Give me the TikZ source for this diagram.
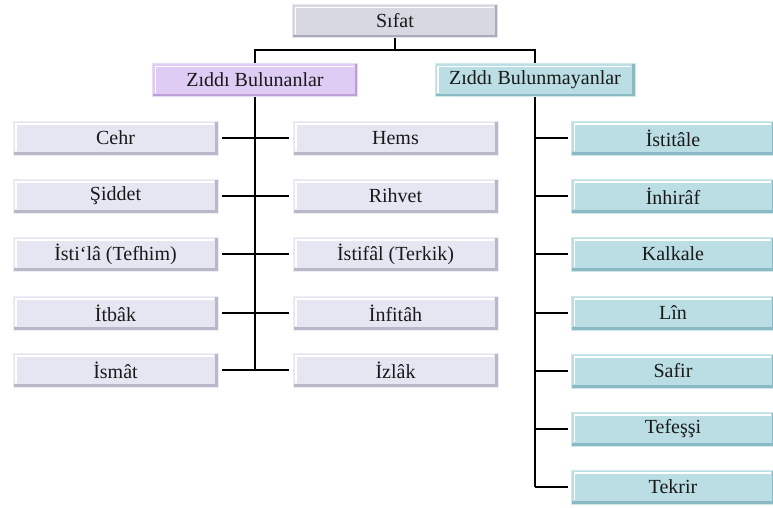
\documentclass[tikz,border=0pt]{standalone}
\usepackage{fontspec}
\setmainfont{Liberation Serif}
\newfontfamily\boxfont{Liberation Serif}
\usetikzlibrary{calc}
\definecolor{gfill}{RGB}{216,216,226}
\definecolor{gdark}{RGB}{170,170,186}
\definecolor{pfill}{RGB}{222,204,244}
\definecolor{pdark}{RGB}{186,160,214}
\definecolor{lfill}{RGB}{230,230,242}
\definecolor{ldark}{RGB}{184,184,200}
\definecolor{bfill}{RGB}{186,222,228}
\definecolor{bdark}{RGB}{140,186,196}
\definecolor{txt}{RGB}{25,25,25}
\tikzset{
  bevel/.style n args={2}{
    fill=#1, draw=#1!70!white, line width=0.6pt,
    minimum height=33pt, inner sep=0pt, text=txt,
    font=\boxfont\fontsize{20}{23}\selectfont,
    path picture={
      \fill[#2] (path picture bounding box.south west) rectangle ([yshift=3pt]path picture bounding box.south east);
      \fill[#2] ([xshift=-3pt]path picture bounding box.south east) rectangle (path picture bounding box.north east);
      \draw[white, line width=1.1pt] ([xshift=3pt,yshift=4pt]path picture bounding box.south west) -- ([xshift=3pt,yshift=-3pt]path picture bounding box.north west) -- ([xshift=-4pt,yshift=-3pt]path picture bounding box.north east);
    }
  },
  topbox/.style={bevel={gfill}{gdark}, minimum width=205pt},
  headL/.style={bevel={pfill}{pdark}, minimum width=205pt},
  headR/.style={bevel={bfill}{bdark}, minimum width=200pt},
  itemL/.style={bevel={lfill}{ldark}, minimum width=205pt, minimum height=34pt},
  itemR/.style={bevel={bfill}{bdark}, minimum width=203pt, minimum height=34pt},
  conn/.style={line width=1.8pt, black},
  spine/.style={line width=2.4pt, black}
}
\begin{document}
\begin{tikzpicture}[x=1pt,y=-1pt]
\useasboundingbox (0,0) rectangle (773,507);
\node[topbox] (sifat) at (395,21) {Sıfat};
\node[headL] (zb) at (255,80) {Zıddı Bulunanlar};
\node[headR] (zbm) at (535,80) {Zıddı Bulunmayanlar};
\coordinate (hb) at (395,50);
% left group
\node[itemL] (l1) at (115.5,138) {Cehr};
\node[itemL] (l2) at (115.5,196) {Şiddet};
\node[itemL] (l3) at (115.5,254) {İsti‘lâ (Tefhim)};
\node[itemL] (l4) at (115.5,313) {İtbâk};
\node[itemL] (l5) at (115.5,370) {İsmât};
\node[itemL] (m1) at (395.5,138) {Hems};
\node[itemL] (m2) at (395.5,196) {Rihvet};
\node[itemL] (m3) at (395.5,254) {İstifâl (Terkik)};
\node[itemL] (m4) at (395.5,313) {İnfitâh};
\node[itemL] (m5) at (395.5,370) {İzlâk};
% right group
\node[itemR] (r1) at (673,138) {İstitâle};
\node[itemR] (r2) at (673,196) {İnhirâf};
\node[itemR] (r3) at (673,254) {Kalkale};
\node[itemR] (r4) at (673,313) {Lîn};
\node[itemR] (r5) at (673,371) {Safir};
\node[itemR] (r6) at (673,429) {Tefeşşi};
\node[itemR] (r7) at (673,487) {Tekrir};
% connectors
\draw[conn] (sifat.south) -- (hb);
\draw[conn] (zb.north) |- (hb) -| (zbm.north);
\draw[spine] (zb.south) -- (zb.south |- l5.east);
\foreach \a/\b in {l1/m1,l2/m2,l3/m3,l4/m4,l5/m5}
  \draw[conn, shorten <=4pt, shorten >=4pt] (\a.east) -- (\b.west);
\draw[spine] (zbm.south) -- (zbm.south |- r7.west);
\foreach \r in {r1,r2,r3,r4,r5,r6,r7}
  \draw[conn, shorten >=3pt] (zbm.south |- \r.west) -- (\r.west);
\end{tikzpicture}
\end{document}
